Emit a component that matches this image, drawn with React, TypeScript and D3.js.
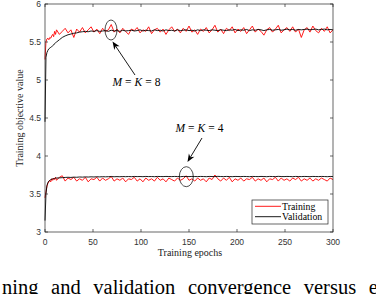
import React from "react";
import * as d3 from "d3";

const epochs = [
  0, 1, 2, 3, 4, 5, 6, 7, 8, 9, 10, 11,
  12, 15, 18, 21, 24, 27, 30, 33, 36, 39,
  42, 45, 48, 51, 54, 57, 60, 63, 66, 69,
  72, 75, 78, 81, 84, 87, 90, 93, 96, 99,
  102, 105, 108, 111, 114, 117, 120, 123, 126, 129,
  132, 135, 138, 141, 144, 147, 150, 153, 156, 159,
  162, 165, 168, 171, 174, 177, 180, 183, 186, 189,
  192, 195, 198, 201, 204, 207, 210, 213, 216, 219,
  222, 225, 228, 231, 234, 237, 240, 243, 246, 249,
  252, 255, 258, 261, 264, 267, 270, 273, 276, 279,
  282, 285, 288, 291, 294, 297, 300,
];

// M = K = 8
const trainK8 = [
  5.27, 5.5, 5.54, 5.55, 5.53, 5.56, 5.55, 5.58, 5.6, 5.57, 5.64, 5.6,
  5.66, 5.6, 5.64, 5.68, 5.62, 5.66, 5.56, 5.67, 5.63, 5.69,
  5.62, 5.66, 5.7, 5.63, 5.67, 5.61, 5.68, 5.64, 5.66, 5.73,
  5.63, 5.67, 5.62, 5.68, 5.64, 5.6, 5.67, 5.65, 5.69, 5.62,
  5.66, 5.64, 5.7, 5.61, 5.66, 5.68, 5.63, 5.67, 5.6, 5.66,
  5.7, 5.64, 5.67, 5.62, 5.68, 5.64, 5.71, 5.63, 5.66, 5.6,
  5.67, 5.64, 5.69, 5.62, 5.66, 5.72, 5.63, 5.67, 5.61, 5.68,
  5.65, 5.7, 5.62, 5.67, 5.64, 5.69, 5.61, 5.66, 5.71, 5.63,
  5.67, 5.64, 5.59, 5.66, 5.69, 5.63, 5.67, 5.72, 5.62, 5.66,
  5.69, 5.64, 5.7, 5.63, 5.67, 5.56, 5.66, 5.69, 5.63, 5.71,
  5.65, 5.62, 5.68, 5.64, 5.7, 5.62, 5.66,
];
const validK8 = [
  4.45, 5.3, 5.36, 5.39, 5.41, 5.42, 5.43, 5.44, 5.45, 5.46, 5.48, 5.49,
  5.5, 5.53, 5.56, 5.58, 5.595, 5.605, 5.615, 5.62, 5.63, 5.635,
  5.64, 5.635, 5.645, 5.64, 5.65, 5.64, 5.645, 5.65, 5.64, 5.655,
  5.645, 5.65, 5.64, 5.655, 5.645, 5.65, 5.655, 5.645, 5.65, 5.66,
  5.645, 5.655, 5.65, 5.645, 5.66, 5.65, 5.655, 5.645, 5.66, 5.65,
  5.655, 5.645, 5.66, 5.65, 5.655, 5.66, 5.65, 5.655, 5.645, 5.66,
  5.65, 5.66, 5.655, 5.65, 5.66, 5.655, 5.65, 5.66, 5.655, 5.65,
  5.66, 5.655, 5.665, 5.65, 5.66, 5.655, 5.665, 5.65, 5.66, 5.655,
  5.665, 5.66, 5.65, 5.66, 5.665, 5.655, 5.66, 5.665, 5.655, 5.66,
  5.67, 5.66, 5.665, 5.655, 5.665, 5.66, 5.665, 5.67, 5.66, 5.665,
  5.67, 5.66, 5.665, 5.67, 5.66, 5.665, 5.66,
];
// M = K = 4
const trainK4 = [
  3.45, 3.53, 3.6, 3.64, 3.66, 3.68, 3.66, 3.7, 3.68, 3.71, 3.69, 3.72,
  3.68, 3.72, 3.74, 3.67, 3.71, 3.69, 3.72, 3.67, 3.7, 3.68,
  3.72, 3.66, 3.7, 3.69, 3.72, 3.67, 3.71, 3.68, 3.7, 3.73,
  3.67, 3.7, 3.68, 3.71, 3.66, 3.7, 3.69, 3.72, 3.67, 3.7,
  3.66, 3.71, 3.68, 3.7, 3.67, 3.72, 3.68, 3.7, 3.66, 3.71,
  3.69, 3.67, 3.71, 3.68, 3.7, 3.74, 3.68, 3.7, 3.67, 3.71,
  3.68, 3.7, 3.66, 3.71, 3.69, 3.75, 3.7, 3.67, 3.71, 3.68,
  3.72, 3.66, 3.7, 3.68, 3.71, 3.67, 3.7, 3.69, 3.72, 3.67,
  3.7, 3.68, 3.71, 3.66, 3.7, 3.69, 3.72, 3.67, 3.71, 3.68,
  3.7, 3.67, 3.71, 3.69, 3.72, 3.67, 3.7, 3.68, 3.71, 3.67,
  3.7, 3.68, 3.71, 3.69, 3.67, 3.71, 3.69,
];
const validK4 = [
  3.15, 3.5, 3.61, 3.65, 3.67, 3.68, 3.69, 3.695, 3.7, 3.7, 3.705, 3.71,
  3.71, 3.712, 3.715, 3.718, 3.72, 3.718, 3.722, 3.72, 3.724, 3.722,
  3.725, 3.723, 3.726, 3.724, 3.727, 3.725, 3.728, 3.726, 3.728, 3.73,
  3.727, 3.729, 3.727, 3.73, 3.728, 3.73, 3.728, 3.731, 3.729, 3.73,
  3.728, 3.731, 3.729, 3.73, 3.728, 3.731, 3.73, 3.729, 3.731, 3.73,
  3.729, 3.731, 3.73, 3.728, 3.731, 3.73, 3.729, 3.731, 3.73, 3.729,
  3.731, 3.73, 3.728, 3.731, 3.73, 3.729, 3.732, 3.73, 3.729, 3.731,
  3.73, 3.728, 3.731, 3.73, 3.729, 3.731, 3.73, 3.728, 3.731, 3.73,
  3.729, 3.731, 3.73, 3.728, 3.731, 3.73, 3.729, 3.732, 3.73, 3.729,
  3.731, 3.73, 3.728, 3.731, 3.73, 3.729, 3.731, 3.73, 3.728, 3.731,
  3.73, 3.729, 3.731, 3.73, 3.728, 3.731, 3.73,
];

const xTicks = [0, 50, 100, 150, 200, 250, 300];
const yTicks = [3, 3.5, 4, 4.5, 5, 5.5, 6];
const yTickLabels = ["3", "3.5", "4", "4.5", "5", "5.5", "6"];
const legendLabels = ["Training", "Validation"];
const seriesColors = ["#ff0000", "#000000"];

const W = 376;
const H = 294;
const L = 45, R = 333, T = 4, B = 232;

const serif = "Liberation Serif, Times New Roman, serif";
const sans = "Liberation Sans, Arial, Helvetica, sans-serif";

function MathLabel({ x, y, n }: { x: number; y: number; n: string }) {
  return (
    <text x={x} y={y} textAnchor="middle" fontFamily={serif} fontSize={11.5} fill="#000">
      <tspan fontFamily={serif} fontStyle="italic">M</tspan>
      <tspan fontFamily={serif} dx={3}>=</tspan>
      <tspan fontFamily={serif} dx={3} fontStyle="italic">K</tspan>
      <tspan fontFamily={serif} dx={3}>=</tspan>
      <tspan fontFamily={serif} dx={3}>{n}</tspan>
    </text>
  );
}

export default function App() {
  const x = d3.scaleLinear().domain([0, 300]).range([L, R]);
  const y = d3.scaleLinear().domain([3, 6]).range([B, T]);
  const line = d3
    .line<[number, number]>()
    .x((d) => x(d[0]))
    .y((d) => y(d[1]));
  const pts = (vals: number[]) =>
    epochs.slice(0, vals.length).map((e, i) => [e, vals[i]] as [number, number]);

  const axisColor = "#262626";
  const tickLen = 3;

  const arrow = (x1: number, y1: number, x2: number, y2: number) => {
    const ang = Math.atan2(y2 - y1, x2 - x1);
    const hl = 8, hw = 3.2;
    const bx = x2 - hl * Math.cos(ang);
    const by = y2 - hl * Math.sin(ang);
    const px = -Math.sin(ang) * hw;
    const py = Math.cos(ang) * hw;
    const mx = x2 - hl * 0.7 * Math.cos(ang);
    const my = y2 - hl * 0.7 * Math.sin(ang);
    return (
      <g>
        <line x1={x1} y1={y1} x2={mx} y2={my} stroke="#000" strokeWidth={0.9} />
        <path
          d={`M${x2},${y2} L${bx + px},${by + py} L${mx},${my} L${bx - px},${by - py} Z`}
          fill="#000"
        />
      </g>
    );
  };

  return (
    <svg
      width={W}
      height={H}
      style={{ position: "absolute", left: 0, top: 0, background: "#fff" }}
    >
      <rect x={0} y={0} width={W} height={H} fill="#fff" />
      <g fill="none" strokeWidth={0.9} strokeLinejoin="round">
        <path d={line(pts(trainK8)) || ""} stroke={seriesColors[0]} />
        <path d={line(pts(trainK4)) || ""} stroke={seriesColors[0]} />
        <path d={line(pts(validK8)) || ""} stroke={seriesColors[1]} />
        <path d={line(pts(validK4)) || ""} stroke={seriesColors[1]} />
      </g>
      <rect x={L} y={T} width={R - L} height={B - T} fill="none" stroke={axisColor} strokeWidth={0.7} />
      {xTicks.map((t) => (
        <g key={"x" + t}>
          <line x1={x(t)} x2={x(t)} y1={B} y2={B - tickLen} stroke={axisColor} strokeWidth={0.7} />
          <line x1={x(t)} x2={x(t)} y1={T} y2={T + tickLen} stroke={axisColor} strokeWidth={0.7} />
          <text x={x(t)} y={244.5} textAnchor="middle" fontFamily={sans} fontSize={8.5} fill="#333">
            {t}
          </text>
        </g>
      ))}
      {yTicks.map((t, i) => (
        <g key={"y" + t}>
          <line x1={L} x2={L + tickLen} y1={y(t)} y2={y(t)} stroke={axisColor} strokeWidth={0.7} />
          <line x1={R} x2={R - tickLen} y1={y(t)} y2={y(t)} stroke={axisColor} strokeWidth={0.7} />
          <text x={41} y={y(t) + 3} textAnchor="end" fontFamily={sans} fontSize={8.5} fill="#333">
            {yTickLabels[i]}
          </text>
        </g>
      ))}
      <text x={190} y={256} textAnchor="middle" fontFamily={serif} fontSize={10} fill="#222">
        Training epochs
      </text>
      <text
        transform="translate(23,118) rotate(-90)"
        textAnchor="middle"
        fontFamily={serif}
        fontSize={10}
        fill="#222"
      >
        Training objective value
      </text>
      <ellipse cx={111} cy={30} rx={6} ry={10} fill="none" stroke="#000" strokeWidth={0.7} />
      {arrow(135, 75, 112.5, 41.5)}
      <MathLabel x={136.5} y={86} n="8" />
      <ellipse cx={186.3} cy={176.7} rx={7} ry={10} fill="none" stroke="#000" strokeWidth={0.7} />
      {arrow(202, 138, 187.5, 162)}
      <MathLabel x={199.5} y={132.3} n="4" />
      <rect x={252} y={200} width={76} height={24} fill="#fff" stroke={axisColor} strokeWidth={0.7} />
      {legendLabels.map((lab, i) => (
        <g key={lab}>
          <line
            x1={255}
            x2={281}
            y1={206.3 + i * 10.4}
            y2={206.3 + i * 10.4}
            stroke={seriesColors[i]}
            strokeWidth={0.9}
          />
          <text x={282} y={209.5 + i * 10.4} fontFamily={serif} fontSize={9.8} fill="#000">
            {lab}
          </text>
        </g>
      ))}
      <text x={2} y={293.5} fontFamily={serif} fontSize={20.5} wordSpacing={7.5} fill="#000">
        ning and validation convergence versus epochs
      </text>
    </svg>
  );
}
